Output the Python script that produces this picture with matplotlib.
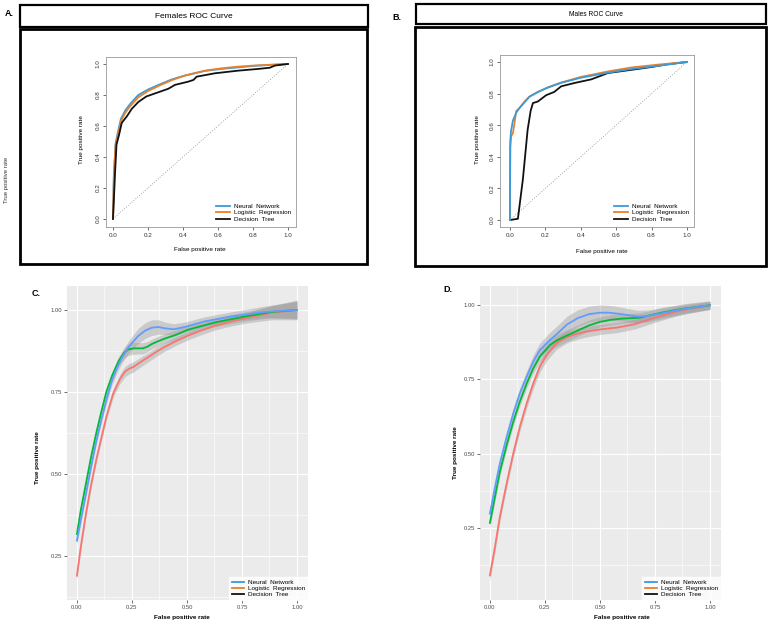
import matplotlib
matplotlib.use("Agg")
import matplotlib.pyplot as plt
from matplotlib.patches import Rectangle
from matplotlib.lines import Line2D
import numpy as np

W, H = 772, 626

# ---- Panel A: females ROC ----
a_nn_fpr = [0, 0.005, 0.015, 0.03, 0.045, 0.07, 0.10, 0.145, 0.20, 0.26, 0.335, 0.41, 0.525, 0.62, 0.715, 0.81, 0.90, 1.0]
a_nn_tpr = [0, 0.29, 0.49, 0.57, 0.645, 0.70, 0.745, 0.80, 0.835, 0.865, 0.90, 0.925, 0.955, 0.968, 0.978, 0.988, 0.994, 1.0]
a_lr_fpr = [0, 0.005, 0.015, 0.03, 0.045, 0.07, 0.10, 0.145, 0.20, 0.26, 0.335, 0.41, 0.525, 0.62, 0.715, 0.81, 0.90, 1.0]
a_lr_tpr = [0, 0.28, 0.48, 0.55, 0.63, 0.685, 0.73, 0.785, 0.825, 0.858, 0.895, 0.925, 0.957, 0.972, 0.983, 0.99, 0.995, 1.0]
a_dt_fpr = [0, 0.011, 0.02, 0.034, 0.05, 0.078, 0.107, 0.145, 0.19, 0.24, 0.316, 0.354, 0.43, 0.46, 0.478, 0.583, 0.716, 0.83, 0.897, 0.926, 1.0]
a_dt_tpr = [0, 0.28, 0.48, 0.54, 0.62, 0.66, 0.71, 0.755, 0.79, 0.81, 0.84, 0.865, 0.886, 0.897, 0.918, 0.94, 0.957, 0.968, 0.976, 0.99, 1.0]

# ---- Panel B: males ROC ----
b_nn_fpr = [0, 0.002, 0.006, 0.017, 0.036, 0.055, 0.083, 0.11, 0.158, 0.215, 0.29, 0.40, 0.554, 0.685, 0.836, 1.0]
b_nn_tpr = [0, 0.50, 0.56, 0.63, 0.68, 0.71, 0.745, 0.78, 0.81, 0.838, 0.868, 0.90, 0.932, 0.955, 0.975, 1.0]
b_lr_fpr = [0, 0.002, 0.0075, 0.017, 0.026, 0.036, 0.055, 0.083, 0.11, 0.158, 0.215, 0.29, 0.40, 0.554, 0.685, 0.836, 1.0]
b_lr_tpr = [0, 0.466, 0.53, 0.55, 0.614, 0.69, 0.71, 0.75, 0.78, 0.81, 0.84, 0.87, 0.905, 0.94, 0.965, 0.983, 1.0]
b_dt_fpr = [0, 0.045, 0.073, 0.10, 0.117, 0.13, 0.158, 0.205, 0.25, 0.29, 0.365, 0.46, 0.554, 0.685, 0.80, 0.874, 1.0]
b_dt_tpr = [0, 0.008, 0.255, 0.57, 0.69, 0.74, 0.75, 0.79, 0.81, 0.846, 0.867, 0.89, 0.93, 0.95, 0.968, 0.983, 1.0]

# ---- Panel C: females smoothed (loess fit + band half-width) ----
c_lr_fpr = [0, 0.0185, 0.042, 0.065, 0.088, 0.111, 0.134, 0.165, 0.196, 0.218, 0.24, 0.256, 0.271, 0.30, 0.324, 0.36, 0.40, 0.45, 0.506, 0.567, 0.627, 0.70, 0.779, 0.885, 1.0]
c_lr_tpr = [0.19, 0.282, 0.383, 0.469, 0.544, 0.61, 0.675, 0.746, 0.79, 0.812, 0.822, 0.826, 0.833, 0.846, 0.856, 0.872, 0.888, 0.905, 0.922, 0.938, 0.952, 0.965, 0.977, 0.992, 1.0]
c_lr_se = [0.012, 0.011, 0.01, 0.01, 0.01, 0.01, 0.011, 0.012, 0.014, 0.016, 0.016, 0.016, 0.015, 0.015, 0.014, 0.014, 0.013, 0.013, 0.013, 0.013, 0.013, 0.014, 0.016, 0.022, 0.03]
c_nn_fpr = [0, 0.0185, 0.042, 0.065, 0.088, 0.111, 0.134, 0.157, 0.18, 0.205, 0.233, 0.255, 0.279, 0.31, 0.34, 0.37, 0.40, 0.44, 0.49, 0.58, 0.70, 0.855, 1.0]
c_nn_tpr = [0.297, 0.363, 0.443, 0.524, 0.60, 0.665, 0.726, 0.78, 0.82, 0.855, 0.885, 0.903, 0.921, 0.937, 0.946, 0.948, 0.944, 0.941, 0.948, 0.965, 0.98, 0.994, 1.0]
c_nn_se = [0.012, 0.011, 0.01, 0.01, 0.01, 0.01, 0.011, 0.012, 0.014, 0.016, 0.019, 0.021, 0.023, 0.024, 0.024, 0.022, 0.019, 0.017, 0.015, 0.014, 0.014, 0.018, 0.025]
c_dt_fpr = [0, 0.0185, 0.042, 0.065, 0.088, 0.111, 0.134, 0.16, 0.19, 0.215, 0.235, 0.26, 0.30, 0.32, 0.34, 0.37, 0.40, 0.45, 0.506, 0.627, 0.779, 0.885, 1.0]
c_dt_tpr = [0.317, 0.393, 0.474, 0.554, 0.625, 0.69, 0.751, 0.80, 0.845, 0.87, 0.88, 0.883, 0.883, 0.888, 0.896, 0.905, 0.913, 0.924, 0.94, 0.962, 0.982, 0.994, 1.0]
c_dt_se = [0.012, 0.011, 0.01, 0.01, 0.01, 0.01, 0.011, 0.012, 0.014, 0.016, 0.018, 0.018, 0.017, 0.016, 0.015, 0.015, 0.014, 0.014, 0.013, 0.013, 0.014, 0.018, 0.028]

# ---- Panel D: males smoothed ----
d_lr_fpr = [0, 0.023, 0.045, 0.076, 0.106, 0.136, 0.167, 0.197, 0.227, 0.258, 0.303, 0.35, 0.40, 0.445, 0.506, 0.58, 0.658, 0.748, 0.855, 1.0]
d_lr_tpr = [0.089, 0.185, 0.286, 0.399, 0.50, 0.59, 0.669, 0.736, 0.793, 0.832, 0.872, 0.893, 0.905, 0.912, 0.919, 0.925, 0.936, 0.958, 0.981, 1.0]
d_lr_se = [0.018, 0.016, 0.015, 0.015, 0.015, 0.015, 0.016, 0.017, 0.018, 0.019, 0.02, 0.02, 0.019, 0.018, 0.017, 0.017, 0.016, 0.016, 0.015, 0.013]
d_nn_fpr = [0, 0.023, 0.045, 0.076, 0.106, 0.136, 0.167, 0.197, 0.227, 0.273, 0.30, 0.35, 0.40, 0.45, 0.50, 0.54, 0.60, 0.67, 0.72, 0.80, 0.90, 1.0]
d_nn_tpr = [0.297, 0.387, 0.466, 0.556, 0.635, 0.703, 0.759, 0.81, 0.849, 0.883, 0.90, 0.935, 0.957, 0.97, 0.975, 0.975, 0.97, 0.962, 0.964, 0.976, 0.99, 1.0]
d_nn_se = [0.018, 0.016, 0.016, 0.016, 0.017, 0.018, 0.02, 0.022, 0.024, 0.026, 0.027, 0.028, 0.028, 0.027, 0.026, 0.025, 0.023, 0.021, 0.02, 0.019, 0.017, 0.015]
d_dt_fpr = [0, 0.023, 0.045, 0.076, 0.106, 0.136, 0.167, 0.197, 0.227, 0.273, 0.30, 0.35, 0.40, 0.45, 0.50, 0.55, 0.60, 0.68, 0.78, 0.885, 1.0]
d_dt_tpr = [0.266, 0.354, 0.438, 0.528, 0.607, 0.675, 0.736, 0.787, 0.827, 0.866, 0.88, 0.898, 0.915, 0.932, 0.944, 0.951, 0.955, 0.958, 0.975, 0.989, 1.0]
d_dt_se = [0.018, 0.016, 0.015, 0.015, 0.015, 0.015, 0.016, 0.017, 0.018, 0.019, 0.02, 0.02, 0.019, 0.018, 0.017, 0.017, 0.016, 0.016, 0.016, 0.015, 0.013]

model_names = ["Neural  Network", "Logistic  Regression", "Decision  Tree"]
key_colors = ["#3a9ad9", "#e8812e", "#111111"]
gg_colors = {"nn": "#619CFF", "lr": "#F8766D", "dt": "#00BA38"}


def px_axes(fig, x0, y0, x1, y1):
    return fig.add_axes([x0 / W, 1 - y1 / H, (x1 - x0) / W, (y1 - y0) / H])


def px_box(fig, x0, y0, x1, y1, lw=1.6):
    fig.add_artist(Rectangle((x0 / W, 1 - y1 / H), (x1 - x0) / W, (y1 - y0) / H,
                             transform=fig.transFigure, fill=False, ec="black", lw=lw))


def px_text(fig, x, y, s, **kw):
    fig.text(x / W, 1 - y / H, s, **kw)


def roc_panel(ax, curves, xlim, ylim):
    ax.plot([0, 1], [0, 1], ls=(0, (1, 2)), color="#888888", lw=0.6)
    for (fpr, tpr), col in curves:
        ax.plot(fpr, tpr, color=col, lw=1.3)
    ax.set_xlim(*xlim)
    ax.set_ylim(*ylim)
    ticks = [0, 0.2, 0.4, 0.6, 0.8, 1.0]
    ax.set_xticks(ticks)
    ax.set_yticks(ticks)
    ax.set_xticklabels([f"{t:.1f}" for t in ticks], fontsize=4.5)
    ax.set_yticklabels([f"{t:.1f}" for t in ticks], fontsize=4.5, rotation=90, va="center")
    ax.tick_params(length=2, width=0.5, pad=2, colors="#333333")
    for s in ax.spines.values():
        s.set_color("#999999")
        s.set_linewidth(0.6)
    handles = [Line2D([], [], color=c, lw=1.3) for c in key_colors]
    ax.legend(handles, model_names, loc="lower right", frameon=False, fontsize=4.6,
              handlelength=2.2, labelspacing=0.15, borderaxespad=0.4, handletextpad=0.6)


def gg_panel(ax, series, xlim, ylim, yticks):
    ax.set_facecolor("#EBEBEB")
    for minor in [0.125, 0.375, 0.625, 0.875]:
        ax.axvline(minor, color="white", lw=0.4, zorder=0)
        ax.axhline(minor, color="white", lw=0.4, zorder=0)
    for major in [0, 0.25, 0.5, 0.75, 1.0]:
        ax.axvline(major, color="white", lw=0.8, zorder=0)
        ax.axhline(major, color="white", lw=0.8, zorder=0)
    for x, y, se, col in series:
        x, y, se = np.array(x), np.array(y), np.array(se)
        ax.fill_between(x, y - se, y + se, color="#999999", alpha=0.4, lw=0, zorder=1)
    for x, y, se, col in series:
        ax.plot(x, y, color=col, lw=1.3, zorder=2, solid_joinstyle="round")
    ax.set_xlim(*xlim)
    ax.set_ylim(*ylim)
    xt = [0, 0.25, 0.5, 0.75, 1.0]
    ax.set_xticks(xt)
    ax.set_xticklabels([f"{t:.2f}" for t in xt], fontsize=4.2, color="#4d4d4d")
    ax.set_yticks(yticks)
    ax.set_yticklabels([f"{t:.2f}" for t in yticks], fontsize=4.2, color="#4d4d4d")
    ax.tick_params(length=2, width=0.5, pad=1.5, color="#333333")
    for s in ax.spines.values():
        s.set_visible(False)
    handles = [Line2D([], [], color=c, lw=1.3) for c in key_colors]
    leg = ax.legend(handles, model_names, loc="lower right", frameon=True, fontsize=4.6,
                    handlelength=2.0, labelspacing=0.1, borderaxespad=0.0, handletextpad=0.6,
                    fancybox=False, borderpad=0.4)
    leg.get_frame().set_edgecolor("white")
    leg.get_frame().set_facecolor("white")


fig = plt.figure(figsize=(W / 100, H / 100), dpi=100)
plt.rcParams["font.family"] = ["Liberation Sans", "DejaVu Sans"]

# ---- A ----
px_text(fig, 5, 13, "A.", fontsize=6.5, fontweight="bold", va="center")
px_box(fig, 20, 5, 368, 27)
px_text(fig, 194, 16, "Females ROC Curve", fontsize=6, ha="center", va="center")
px_box(fig, 20, 29, 367, 264, lw=2)
px_text(fig, 7, 180, "True positive rate", fontsize=4.3, rotation=90, ha="center", va="center", color="#333333")
ax_a = px_axes(fig, 106, 57, 296, 227)
roc_panel(ax_a, [((a_nn_fpr, a_nn_tpr), key_colors[0]),
                 ((a_lr_fpr, a_lr_tpr), key_colors[1]),
                 ((a_dt_fpr, a_dt_tpr), key_colors[2])],
          (-0.04, 1.046), (-0.052, 1.045))
px_text(fig, 200, 249, "False positive rate", fontsize=4.6, ha="center", va="center")
px_text(fig, 82, 140, "True positive rate", fontsize=4.6, rotation=90, ha="center", va="center")

# ---- B ----
px_text(fig, 392, 17, "B.", fontsize=6.5, fontweight="bold", va="center")
px_box(fig, 416, 4, 766, 24)
px_text(fig, 596, 15, "Males ROC Curve", fontsize=4.8, ha="center", va="center")
px_box(fig, 415, 27, 766, 266, lw=2)
ax_b = px_axes(fig, 500, 55, 694, 227)
roc_panel(ax_b, [((b_dt_fpr, b_dt_tpr), key_colors[2]),
                 ((b_lr_fpr, b_lr_tpr), key_colors[1]),
                 ((b_nn_fpr, b_nn_tpr), key_colors[0])],
          (-0.056, 1.04), (-0.044, 1.044))
px_text(fig, 602, 252, "False positive rate", fontsize=4.6, ha="center", va="center")
px_text(fig, 478, 140, "True positive rate", fontsize=4.6, rotation=90, ha="center", va="center")

# ---- C ----
px_text(fig, 36, 294, "C.", fontsize=6.5, fontweight="bold", va="center", ha="center")
ax_c = px_axes(fig, 67, 286, 308, 600)
gg_panel(ax_c, [(c_lr_fpr, c_lr_tpr, c_lr_se, gg_colors["lr"]),
                (c_dt_fpr, c_dt_tpr, c_dt_se, gg_colors["dt"]),
                (c_nn_fpr, c_nn_tpr, c_nn_se, gg_colors["nn"])],
         (-0.045, 1.05), (0.116, 1.073), [0.25, 0.5, 0.75, 1.0])
px_text(fig, 182, 617, "False positive rate", fontsize=4.6, ha="center", va="center", fontweight="bold")
px_text(fig, 38, 458, "True positive rate", fontsize=4.6, rotation=90, ha="center", va="center", fontweight="bold")

# ---- D ----
px_text(fig, 448, 290, "D.", fontsize=6.5, fontweight="bold", va="center", ha="center")
ax_d = px_axes(fig, 480, 286, 721, 600)
gg_panel(ax_d, [(d_lr_fpr, d_lr_tpr, d_lr_se, gg_colors["lr"]),
                (d_dt_fpr, d_dt_tpr, d_dt_se, gg_colors["dt"]),
                (d_nn_fpr, d_nn_tpr, d_nn_se, gg_colors["nn"])],
         (-0.045, 1.05), (0.006, 1.065), [0.25, 0.5, 0.75, 1.0])
px_text(fig, 622, 618, "False positive rate", fontsize=4.6, ha="center", va="center", fontweight="bold")
px_text(fig, 455, 453, "True positive rate", fontsize=4.6, rotation=90, ha="center", va="center", fontweight="bold")

fig.savefig("out.png", dpi=100)
